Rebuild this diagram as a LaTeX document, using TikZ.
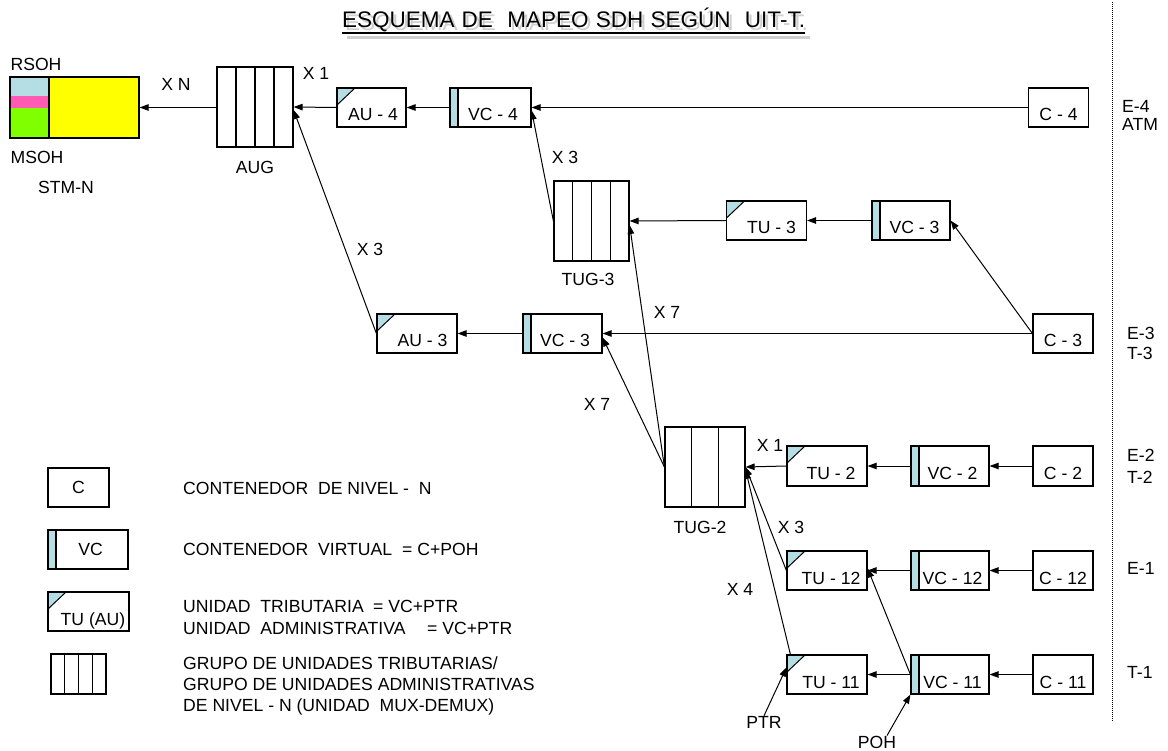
\documentclass[tikz,border=0pt]{standalone}
\usepackage{fontspec}
\setmainfont{Liberation Sans}
\usetikzlibrary{arrows.meta,calc}
\definecolor{vcblue}{HTML}{B5DEE4}
\definecolor{msohgreen}{HTML}{80FF00}
\definecolor{pinkband}{HTML}{FF5AB4}
\definecolor{stmyellow}{HTML}{FFFF00}
\definecolor{shadowgray}{HTML}{CFCFCF}
\begin{document}
\begin{tikzpicture}[x=1pt,y=-1pt,
  every node/.style={font=\fontsize{17.6}{21}\selectfont},
  lbl/.style={inner sep=0pt},
  box/.style={draw, line width=1.2pt, rectangle, inner sep=0pt, minimum height=39pt, text height=27pt, text depth=0pt},
  cbox/.style={box, minimum width=60pt},
  vcbox/.style={box, minimum width=79pt, path picture={
      \fill[vcblue] (path picture bounding box.north west) rectangle ([xshift=8pt]path picture bounding box.south west);
      \draw[line width=1.8pt] ([xshift=8pt]path picture bounding box.north west) -- ([xshift=8pt]path picture bounding box.south west);}},
  tubox/.style={box, minimum width=80pt, path picture={
      \fill[vcblue] (path picture bounding box.north west) -- ++(18pt,0pt) -- ++(-18pt,-17pt) -- cycle;
      \draw[line width=1pt] ([xshift=18pt]path picture bounding box.north west) -- ([yshift=-17pt]path picture bounding box.north west);}},
  grpbox/.style={draw, line width=1.2pt, rectangle, inner sep=0pt, minimum height=80pt, path picture={
      \pgfmathtruncatemacro\nlines{#1-1}
      \foreach \k in {1,...,\nlines}{
        \pgfmathsetmacro\ff{\k/#1}
        \draw[line width=1.2pt] ($(path picture bounding box.north west)!\ff!(path picture bounding box.north east)$) -- ($(path picture bounding box.south west)!\ff!(path picture bounding box.south east)$);}}},
  arr/.style={line width=1pt, -{Triangle[length=9pt,width=6.5pt]}},
  titlefont/.style={font=\fontsize{22.5}{22.5}\selectfont},
]
\useasboundingbox (0,0) rectangle (1168,751);

% title with shadow
\node[lbl, titlefont, anchor=base, text=shadowgray] (titleshadow) at (576.5,31) {\makebox[463pt][s]{ESQUEMA DE\ \ MAPEO SDH SEGÚN\ \ UIT-T.}};
\draw[shadowgray, line width=3pt] (347,38) -- (810,38);
\node[lbl, titlefont, anchor=base] (title) at (573.5,28) {\makebox[463pt][s]{ESQUEMA DE\ \ MAPEO SDH SEGÚN\ \ UIT-T.}};
\draw[line width=2.5pt] (342,33) -- (805,33);

% STM-N frame
\node[draw, line width=1.2pt, fill=stmyellow, inner sep=0pt, minimum width=129pt, minimum height=61pt, path picture={
   \fill[vcblue] (path picture bounding box.north west) rectangle ++(39pt,-19pt);
   \fill[pinkband] ([yshift=-19pt]path picture bounding box.north west) rectangle ++(39pt,-12pt);
   \fill[msohgreen] ([yshift=-31pt]path picture bounding box.north west) rectangle ([xshift=39pt]path picture bounding box.south west);
   \draw[line width=1.2pt] ([xshift=39pt]path picture bounding box.north west) -- ([xshift=39pt]path picture bounding box.south west);
 }] (stm) at (74.5,107.5) {};
\node[lbl] (rsoh) at (36,64) {RSOH};
\node[lbl] (msoh) at (37,157) {MSOH};
\node[lbl] (stmn) at (66,187) {STM-N};
\node[lbl] (xn) at (176,84) {X N};

% main boxes
\node[grpbox=4, minimum width=76pt] (aug) at (255,107) {};
\node[lbl] (auglbl) at (255,167) {AUG};
\node[lbl] (x1a) at (316,73) {X 1};
\node[tubox, minimum width=69pt] (au4) at (371.5,107.5) {\hspace*{3pt}AU - 4};
\node[vcbox, minimum width=81pt] (vc4) at (490.5,107.5) {\hspace*{5pt}VC - 4};
\node[cbox] (c4) at (1058.5,107.5) {C - 4};

\node[lbl] (x3a) at (565,157) {X 3};
\node[grpbox=4, minimum width=75pt] (tug3) at (591.5,221) {};
\node[lbl] (tug3lbl) at (588,279) {TUG-3};
\node[tubox] (tu3) at (766.5,220.5) {\hspace*{10pt}TU - 3};
\node[vcbox, minimum width=78pt] (vc3u) at (911,220.5) {\hspace*{7pt}VC - 3};

\node[lbl] (x3b) at (370,249) {X 3};
\node[tubox] (au3) at (417,333.5) {\hspace*{11pt}AU - 3};
\node[vcbox] (vc3l) at (562.5,333.5) {\hspace*{5pt}VC - 3};
\node[cbox] (c3) at (1063,333.5) {C - 3};
\node[lbl] (x7a) at (667,312) {X 7};
\node[lbl] (x7b) at (597,404) {X 7};

\node[grpbox=3, minimum width=80pt] (tug2) at (705,467) {};
\node[lbl] (tug2lbl) at (700,527) {TUG-2};
\node[lbl] (x1b) at (770,445) {X 1};
\node[tubox, minimum height=40pt] (tu2) at (827,466) {\hspace*{8pt}TU - 2};
\node[vcbox, minimum width=78pt, minimum height=40pt] (vc2) at (950,466) {\hspace*{5pt}VC - 2};
\node[cbox, minimum height=40pt] (c2) at (1063,466) {C - 2};

\node[lbl] (x3c) at (791,527) {X 3};
\node[tubox] (tu12) at (827,570.5) {\hspace*{8pt}TU - 12};
\node[vcbox, minimum width=78pt] (vc12) at (950,570.5) {\hspace*{5pt}VC - 12};
\node[cbox] (c12) at (1063,570.5) {C - 12};

\node[lbl] (x4) at (740,589) {X 4};
\node[tubox] (tu11) at (827,674.5) {\hspace*{8pt}TU - 11};
\node[vcbox, minimum width=78pt] (vc11) at (950,674.5) {\hspace*{5pt}VC - 11};
\node[cbox] (c11) at (1063,674.5) {C - 11};
\node[lbl] (ptr) at (764,722) {PTR};
\node[lbl] (poh) at (877,742) {POH};

% right side labels
\draw[line width=0.9pt, dash pattern=on 1pt off 1pt] (1112,2) -- (1112,722);
\node[lbl, anchor=west] (e4) at (1122,106) {E-4};
\node[lbl, anchor=west] (atm) at (1122,124) {ATM};
\node[lbl, anchor=west] (e3) at (1127,333) {E-3};
\node[lbl, anchor=west] (t3) at (1127,353) {T-3};
\node[lbl, anchor=west] (e2) at (1127,455) {E-2};
\node[lbl, anchor=west] (t2) at (1127,477) {T-2};
\node[lbl, anchor=west] (e1) at (1127,568) {E-1};
\node[lbl, anchor=west] (t1) at (1127,672) {T-1};

% connectors
\draw[arr] (stm.east -| aug.west) -- (stm.east);
\draw[arr] (c4.west) -- (vc4.east);
\draw[arr] (vc4.west) -- (au4.east);
\draw[arr] (au4.west) -- (aug.east);
\draw[arr] (au3.west) -- ([yshift=-3pt]aug.east);
\draw[arr] (tug3.west) -- ([yshift=-3pt]vc4.east);
\draw[arr] (vc3u.west) -- (tu3.east);
\draw[arr] (tu3.west) -- (tug3.east);
\draw[arr] (c3.west) -- (vc3u.east);
\draw[arr] (c3.west) -- (vc3l.east);
\draw[arr] (vc3l.west) -- (au3.east);
\draw[arr] (tug2.west) -- ([yshift=-4pt]vc3l.east);
\draw[arr] (tug2.west) -- ([yshift=-4pt]tug3.east);
\draw[arr] (c2.west) -- (vc2.east);
\draw[arr] (vc2.west) -- (tu2.east);
\draw[arr] (tu2.west) -- (tug2.east);
\draw[arr] (c12.west) -- (vc12.east);
\draw[arr] (vc12.west) -- (tu12.east);
\draw[arr] (tu12.west) -- (tug2.east);
\draw[arr] (c11.west) -- (vc11.east);
\draw[arr] (vc11.west) -- (tu11.east);
\draw[arr] ([xshift=4pt]tu11.north west) -- ([yshift=-3pt]tug2.east);
\draw[arr] (vc11.west) -- ([yshift=2pt]tu12.east);
\draw[arr] (ptr.north) -- ([yshift=7pt]tu11.west);
\draw[arr] ([xshift=10pt]poh.north) -- (vc11.south west);

% legend
\node[draw, line width=1.2pt, inner sep=0pt, minimum width=61pt, minimum height=39pt] (legc) at (78.5,487.5) {C};
\node[draw, line width=1.2pt, inner sep=0pt, minimum width=80pt, minimum height=39pt, path picture={
      \fill[vcblue] (path picture bounding box.north west) rectangle ([xshift=8pt]path picture bounding box.south west);
      \draw[line width=1.2pt] ([xshift=8pt]path picture bounding box.north west) -- ([xshift=8pt]path picture bounding box.south west);}] (legvc) at (88,549.5) {\hspace*{5pt}VC};
\node[tubox, minimum width=81pt] (legtu) at (88.5,611.5) {\hspace*{9pt}TU (AU)};
\node[grpbox=4, minimum width=55pt, minimum height=40pt] (leggrp) at (78.5,674) {};

\node[lbl, anchor=base west] (legt1) at (183,494) {CONTENEDOR\ \ DE NIVEL -\ \ N};
\node[lbl, anchor=base west] (legt2) at (183,555) {\makebox[219pt][l]{CONTENEDOR\ \ VIRTUAL}= C+POH};
\node[lbl, anchor=base west] (legt3) at (183,612) {\makebox[190pt][l]{UNIDAD\ \ TRIBUTARIA}= VC+PTR};
\node[lbl, anchor=base west] (legt4) at (183,634) {\makebox[244pt][l]{UNIDAD\ \ ADMINISTRATIVA}= VC+PTR};
\node[lbl, anchor=base west] (legt5) at (183,669) {GRUPO DE UNIDADES TRIBUTARIAS/};
\node[lbl, anchor=base west] (legt6) at (183,690) {GRUPO DE UNIDADES ADMINISTRATIVAS};
\node[lbl, anchor=base west] (legt7) at (183,711) {DE NIVEL - N (UNIDAD\ \ MUX-DEMUX)};
\end{tikzpicture}
\end{document}
